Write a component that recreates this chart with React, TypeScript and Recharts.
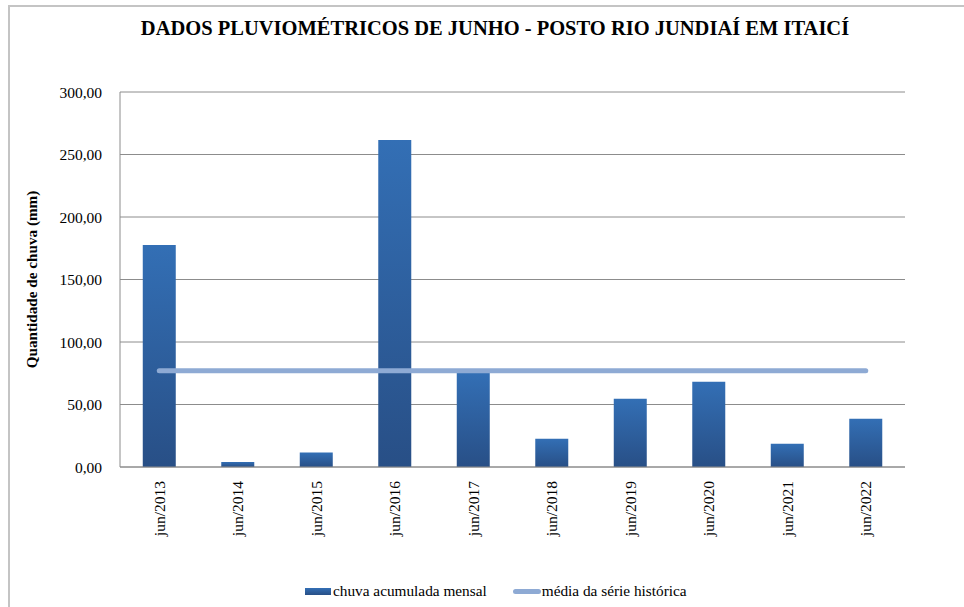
import React from 'react';
import { ComposedChart, Bar, Line, XAxis, YAxis, CartesianGrid, Legend } from 'recharts';

const months = ['jun/2013', 'jun/2014', 'jun/2015', 'jun/2016', 'jun/2017', 'jun/2018', 'jun/2019', 'jun/2020', 'jun/2021', 'jun/2022'];
const chuva = [177.6, 4.0, 11.6, 261.6, 75.4, 22.6, 54.6, 68.2, 18.6, 38.6];
const media = [77.0, 77.0, 77.0, 77.0, 77.0, 77.0, 77.0, 77.0, 77.0, 77.0];
const yTicks = [0, 50, 100, 150, 200, 250, 300];

const data = months.map((m, i) => ({ mes: m, chuva: chuva[i], media: media[i] }));

const FONT = '"Liberation Serif", "Times New Roman", serif';

const fmt = (v: number) => v.toFixed(2).replace('.', ',');

const XTick = (props: any) => {
  const { x, y, payload } = props;
  return (
    <text
      x={x}
      y={y}
      transform={`rotate(-90, ${x}, ${y})`}
      textAnchor="end"
      dominantBaseline="central"
      fontFamily={FONT}
      fontSize={15.5}
      fill="#000"
    >
      {payload.value}
    </text>
  );
};

const LegendContent = () => (
  <div style={{ display: 'flex', alignItems: 'center', fontFamily: FONT, fontSize: 15.3, color: '#000' }}>
    <span style={{ display: 'inline-block', width: 26, height: 7, background: 'linear-gradient(#336fb5, #284f86)', marginRight: 2 }} />
    <span style={{ marginRight: 26 }}>chuva acumulada mensal</span>
    <span style={{ display: 'inline-block', width: 28, height: 5, borderRadius: 3, background: '#8eaad4', marginRight: 1 }} />
    <span>média da série histórica</span>
  </div>
);

export default function App() {
  return (
    <div style={{ position: 'absolute', left: 0, top: 0, width: 964, height: 607, overflow: 'hidden', background: '#fff' }}>
      <div
        style={{
          position: 'absolute',
          left: 8,
          top: 5,
          width: 1100,
          height: 800,
          borderTop: '2px solid #c4c4c4',
          borderLeft: '2px solid #c4c4c4',
        }}
      />
      <div
        style={{
          position: 'absolute',
          left: 0,
          top: 17,
          width: 990,
          textAlign: 'center',
          fontFamily: FONT,
          fontWeight: 'bold',
          fontSize: 20.5,
          color: '#000',
        }}
      >
        DADOS PLUVIOMÉTRICOS DE JUNHO - POSTO RIO JUNDIAÍ EM ITAICÍ
      </div>
      <div style={{ position: 'absolute', left: 0, top: 0 }}>
        <ComposedChart
          width={964}
          height={607}
          data={data}
          margin={{ top: 92, right: 59, left: 0, bottom: 52 }}
          barCategoryGap="29%"
        >
          <defs>
            <linearGradient id="barGrad" x1="0" y1="0" x2="0" y2="1">
              <stop offset="0%" stopColor="#336fb5" />
              <stop offset="100%" stopColor="#284f86" />
            </linearGradient>
          </defs>
          <CartesianGrid vertical={false} stroke="#8c8c8c" strokeWidth={1} />
          <XAxis
            dataKey="mes"
            height={70}
            interval={0}
            tick={<XTick />}
            tickLine={false}
            tickMargin={8}
            axisLine={{ stroke: '#8c8c8c' }}
          />
          <YAxis
            width={120}
            domain={[0, 300]}
            ticks={yTicks}
            tickFormatter={fmt}
            tickLine={false}
            tickMargin={12}
            axisLine={{ stroke: '#8c8c8c' }}
            tick={{ fontFamily: FONT, fontSize: 15.5, fill: '#000' }}
            label={{
              value: 'Quantidade de chuva (mm)',
              angle: -90,
              position: 'insideLeft',
              dx: 27,
              dy: 0,
              style: { fontFamily: FONT, fontSize: 15.2, fontWeight: 'bold', fill: '#000', textAnchor: 'middle' },
            }}
          />
          <Legend
            verticalAlign="bottom"
            content={<LegendContent />}
            wrapperStyle={{ position: 'absolute', left: 305, top: 582, width: 'auto', bottom: 'auto' }}
          />
          <Bar dataKey="chuva" name="chuva acumulada mensal" fill="url(#barGrad)" isAnimationActive={false} />
          <Line
            dataKey="media"
            name="média da série histórica"
            stroke="#8eaad4"
            strokeWidth={5}
            strokeLinecap="round"
            dot={false}
            activeDot={false}
            type="linear"
            isAnimationActive={false}
          />
        </ComposedChart>
      </div>
    </div>
  );
}
